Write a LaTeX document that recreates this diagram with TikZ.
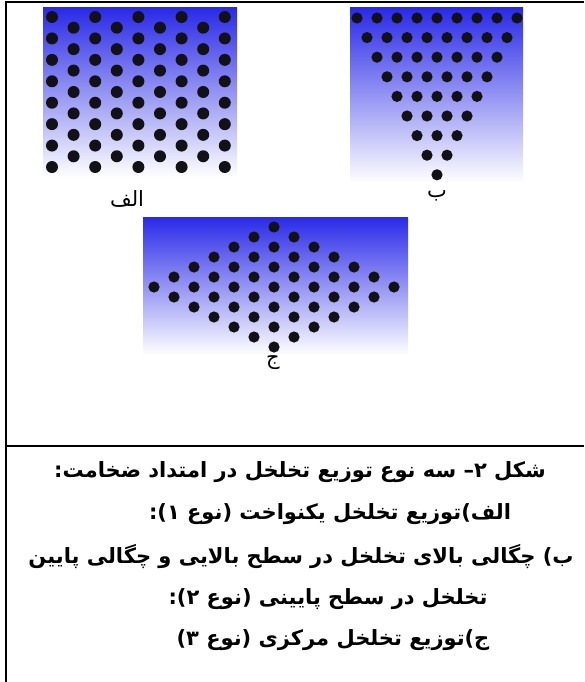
\documentclass[tikz,border=0pt]{standalone}
\usepackage{fontspec}
\TeXXeTstate=1
\newfontfamily\farsifont[Script=Arabic]{DejaVu Sans}
\definecolor{poreblue}{RGB}{42,42,232}
\definecolor{porefill}{RGB}{18,18,22}

\begin{document}
\begin{tikzpicture}[x=1pt,y=-1pt,
  pore/.style={fill=porefill},
  panelbg/.style={top color=poreblue, bottom color=white},
  frameline/.style={line width=1.6pt},
  tag/.style={font=\farsifont\fontsize{21}{24}\selectfont, inner sep=0pt},
  capline/.style={font=\farsifont\bfseries\fontsize{21}{26}\selectfont, inner sep=0pt}]
  \useasboundingbox (0,0) rectangle (584,682);

  % draw table frame
  \draw[frameline] (5,2) -- (584,2);
  \draw[frameline] (6,2) -- (6,682);
  \draw[frameline] (6,446) -- (584,446);

  % draw shaded panel backgrounds
  \shade[panelbg] (43,8) rectangle (237,177);
  \shade[panelbg] (350,8) rectangle (523,183);
  \shade[panelbg] (143,217) rectangle (408,355);

  % draw pores for uniform panel (type 1)
  \foreach \k in {0,...,8} {
    \pgfmathtruncatemacro\odd{mod(\k,2)}
    \pgfmathtruncatemacro\rows{7-\odd}
    \foreach \r in {0,...,\rows}
      \fill[pore] ({52+21.6*\k}, {17+21.43*\r+10.7*\odd}) circle (6);
  }

  % draw pores for top-dense panel (type 2)
  \foreach \r in {0,...,8} {
    \pgfmathtruncatemacro\last{8-\r}
    \foreach \j in {0,...,\last}
      \fill[pore] ({437+20*\j-10*\last}, {18+19.6*\r}) circle (5.6);
  }

  % draw pores for centre-dense panel (type 3)
  \foreach \i in {-6,...,6} {
    \pgfmathtruncatemacro\n{6-abs(\i)}
    \foreach \m in {0,...,\n}
      \fill[pore] ({274+20*\i}, {287+10*(2*\m-\n)}) circle (5.6);
  }

  % panel tags
  \node[tag] (tagA) at (127,199) {\beginR الف\endR};
  \node[tag] (tagB) at (437,196) {\beginR ب\endR};
  \node[tag] (tagC) at (273,363) {\beginR ج\endR};

  % caption lines
  \node[capline] (cap1) at (300,472) {\beginR شکل ۲– سه نوع توزیع تخلخل در امتداد ضخامت:\endR};
  \node[capline] (cap2) at (330,514) {\beginR الف)توزیع تخلخل یکنواخت (نوع ۱):\endR};
  \node[capline] (cap3) at (301,557) {\beginR ب) چگالی بالای تخلخل در سطح بالایی و چگالی پایین\endR};
  \node[capline] (cap4) at (328,599) {\beginR تخلخل در سطح پایینی (نوع ۲):\endR};
  \node[capline] (cap5) at (333,640) {\beginR ج)توزیع تخلخل مرکزی (نوع ۳)\endR};
\end{tikzpicture}
\end{document}
